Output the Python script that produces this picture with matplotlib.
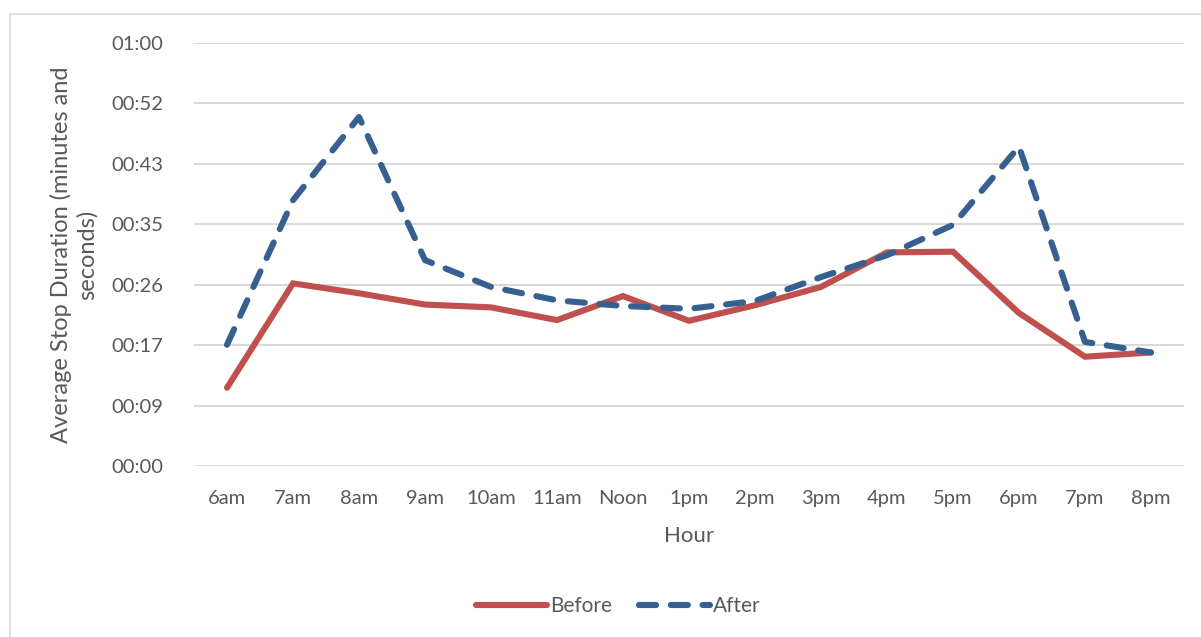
import matplotlib.pyplot as plt
from matplotlib.patches import Rectangle

hours = ["6am", "7am", "8am", "9am", "10am", "11am", "Noon",
         "1pm", "2pm", "3pm", "4pm", "5pm", "6pm", "7pm", "8pm"]

# average stop duration in seconds
before = [11.1, 25.9, 24.5, 22.9, 22.5, 20.7, 24.1,
          20.6, 22.8, 25.4, 30.3, 30.4, 21.7, 15.5, 16.1]
after = [17.2, 37.7, 49.5, 29.2, 25.4, 23.5, 22.7,
         22.3, 23.4, 26.8, 29.9, 34.2, 45.3, 17.6, 16.1]

y_ticks = [60 / 7 * i for i in range(8)]
y_labels = ["00:00", "00:09", "00:17", "00:26", "00:35", "00:43", "00:52", "01:00"]

text_color = "#595959"
grid_color = "#D9D9D9"

plt.rcParams["font.family"] = ["Lato", "DejaVu Sans"]

fig = plt.figure(figsize=(12.01, 6.37), dpi=100)
ax = fig.add_axes([194 / 1201, 1 - 466 / 637, 990 / 1201, 423 / 637])

# chart area border
fig.patches.append(Rectangle((10 / 1201, -0.1), 1.2, 1 - 14 / 637 + 0.1,
                             transform=fig.transFigure, fill=False,
                             edgecolor=grid_color, linewidth=1.2))

x = range(len(hours))
ax.plot(x, before, color="#C0504D", linewidth=4.4, label="Before",
        solid_capstyle="round", solid_joinstyle="miter")
ax.plot(x, after, color="#36608F", linewidth=4.4, label="After",
        linestyle=(0, (2.8, 2.4)), dash_capstyle="round", dash_joinstyle="round")

ax.set_xlim(-0.5, len(hours) - 0.5)
ax.set_ylim(0, 60)
ax.set_xticks(list(x))
ax.set_xticklabels(hours)
ax.set_yticks(y_ticks)
ax.set_yticklabels(y_labels)

ax.grid(True, axis="y", color=grid_color, linewidth=1.5)
ax.set_axisbelow(True)
for s in ax.spines.values():
    s.set_visible(False)
ax.tick_params(length=0, labelsize=14.5, colors=text_color)
ax.tick_params(axis="x", pad=17)
ax.tick_params(axis="y", pad=22)

ax.set_xlabel("Hour", fontsize=16, color=text_color, labelpad=14)
ax.set_ylabel("Average Stop Duration (minutes and\nseconds)", fontsize=17,
              color=text_color, labelpad=10, linespacing=1.25)

fig.legend(loc="center", bbox_to_anchor=(0.515, 1 - 606 / 637), ncol=2,
           frameon=False, fontsize=15, handlelength=3.4, handletextpad=0.15,
           columnspacing=1.3, labelcolor=text_color)

fig.savefig("out.png", dpi=100)
